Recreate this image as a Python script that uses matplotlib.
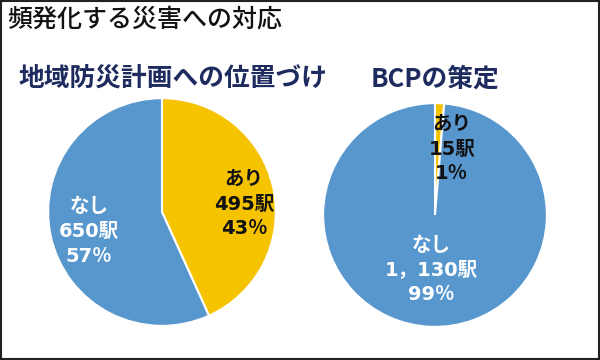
import matplotlib
matplotlib.use("Agg")
import matplotlib.pyplot as plt
from matplotlib.patches import Rectangle

plt.rcParams['font.family'] = ['Noto Sans CJK JP', 'DejaVu Sans']

# ---------------- DATA ---------------- #

TITLE = "頻発化する災害への対応"

LEFT_TITLE = "地域防災計画への位置づけ"
LEFT_LABELS = ["あり", "なし"]
LEFT_COUNTS = [495, 650]
LEFT_COUNT_TEXT = ["495駅", "650駅"]
LEFT_PCT_TEXT = ["43％", "57％"]

RIGHT_TITLE = "BCPの策定"
RIGHT_LABELS = ["あり", "なし"]
RIGHT_COUNTS = [15, 1130]
RIGHT_COUNT_TEXT = ["15駅", "1，130駅"]
RIGHT_PCT_TEXT = ["1％", "99％"]

COLORS = ["#F5C300", "#5797CE"]
TEXT_COLORS = ["#111111", "#FFFFFF"]
NAVY = "#1E2B5E"

LABEL_FONT = ['DejaVu Sans', 'Noto Sans CJK JP']


def draw_pie(ax, counts, labels, count_text, pct_text, label_pos):
    ax.pie(counts, colors=COLORS, startangle=90, counterclock=False,
           radius=1, wedgeprops=dict(edgecolor="white", linewidth=1.5))
    ax.set_xlim(-1.01, 1.01)
    ax.set_ylim(-1.01, 1.01)
    ax.set_aspect("equal")
    for i in range(len(counts)):
        txt = f"{labels[i]}\n{count_text[i]}\n{pct_text[i]}"
        ax.text(label_pos[i][0], label_pos[i][1], txt, ha="center", va="center",
                fontsize=14, fontweight="bold", color=TEXT_COLORS[i],
                family=LABEL_FONT, linespacing=1.38)


fig = plt.figure(figsize=(6, 3.6), dpi=100)
fig.patch.set_facecolor("white")

fig.text(7 / 600, 1 - 20 / 360, TITLE, ha="left", va="center",
         fontsize=18, fontweight="medium", color="#111111")

fig.text(173 / 600, 1 - 78 / 360, LEFT_TITLE, ha="center", va="center",
         fontsize=18.5, fontweight="bold", color=NAVY)
fig.text(435 / 600, 1 - 79 / 360, RIGHT_TITLE, ha="center", va="center",
         fontsize=18.5, fontweight="bold", color=NAVY)

ax1 = fig.add_axes([47 / 600, 33 / 360, 230 / 600, 230 / 360])
draw_pie(ax1, LEFT_COUNTS, LEFT_LABELS, LEFT_COUNT_TEXT, LEFT_PCT_TEXT,
         [(0.72, 0.07), (-0.64, -0.17)])

ax2 = fig.add_axes([322 / 600, 32 / 360, 226 / 600, 226 / 360])
draw_pie(ax2, RIGHT_COUNTS, RIGHT_LABELS, RIGHT_COUNT_TEXT, RIGHT_PCT_TEXT,
         [(0.15, 0.59), (-0.03, -0.49)])

fig.patches.append(Rectangle((0.002, 0.003), 0.996, 0.994, transform=fig.transFigure,
                             fill=False, edgecolor="#222222", linewidth=1.5))

fig.savefig("out.png", dpi=100)
plt.close(fig)
